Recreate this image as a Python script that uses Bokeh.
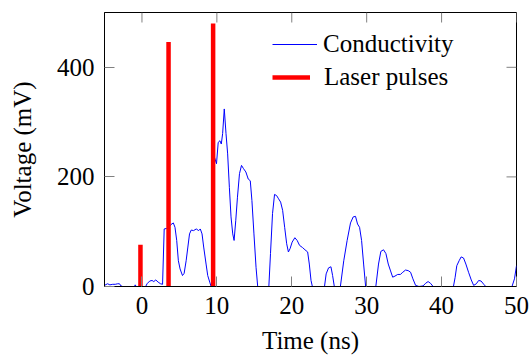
import math
from bokeh.plotting import figure
from bokeh.models import Legend, LegendItem, FixedTicker, Range1d
from bokeh.embed import file_html
from bokeh.resources import INLINE

# Conductivity trace (ns, mV)
time_ns = [-5.0, -4.6, -4.28, -3.9, -3.56, -3.24, -3.0, -2.8, -2.57, -2.2, -1.3, -1.0, -0.9, -0.77, -0.4,
           0.4, 0.5, 0.68, 1.04, 1.35, 1.58, 1.85, 2.16, 2.48, 2.75, 2.97, 3.29, 3.6, 3.87, 4.19, 4.41,
           4.64, 4.86, 5.09, 5.41, 5.63, 5.9, 6.13, 6.35, 6.58, 6.89, 7.25, 7.57, 7.79, 8.02, 8.24,
           8.56, 8.78, 9.05, 9.23, 9.45, 9.68, 9.95, 10.18, 10.41, 10.59, 10.77, 10.99, 11.22, 11.44,
           11.67, 11.89, 12.12, 12.3, 12.52, 12.75, 13.02, 13.29, 13.56, 13.87, 14.19, 14.46, 14.68,
           14.95, 15.23, 15.45, 16.2, 16.94, 17.16, 17.43, 17.7, 17.97, 18.24, 18.51, 18.78, 19.05,
           19.32, 19.55, 19.77, 20.05, 20.41, 20.72, 21.04, 21.44, 21.76, 22.12, 22.34, 22.57, 22.75,
           23.56, 24.37, 24.59, 24.91, 25.23, 25.45, 25.68, 26.08, 26.49, 26.94, 27.39, 27.84, 28.2,
           28.51, 28.78, 29.05, 29.32, 29.59, 29.86, 30.54, 31.22, 31.58, 31.89, 32.25, 32.57, 32.88,
           33.15, 33.47, 33.78, 34.14, 34.5, 34.82, 35.18, 35.54, 35.86, 36.17, 36.53, 36.98, 37.52,
           37.88, 38.2, 38.51, 38.87, 40.68, 41.58, 41.8, 42.03, 42.34, 42.61, 42.93, 43.24, 43.6,
           43.96, 44.28, 44.64, 44.95, 45.27, 45.63, 45.9, 47.4, 49.4, 49.73, 50.0]
conductivity_mv = [2, 5, 3, 4, 4, 5, 5, 1, 0, -10, -10, 0, 3, 0, -10,
                   -10, 0, 5, 10, 11, 9, 12, 8, 5, 4, 105, 106, 108, 113, 116, 108,
                   84, 47, 32, 20, 24, 47, 72, 96, 103, 102, 105, 102, 105, 96, 72,
                   41, 20, 8, 0, -20, 236, 224, 263, 266, 260, 279, 324, 279, 242,
                   181, 127, 96, 84, 120, 163, 206, 221, 215, 209, 196, 193, 157,
                   96, 35, 0, -40, 0, 60, 133, 168, 166, 160, 154, 139, 108,
                   78, 63, 69, 81, 89, 84, 75, 71, 67, 63, 41, 11, 0,
                   -30, 0, 23, 34, 36, 20, 0, -20, 0, 47, 84, 116, 127,
                   128, 114, 108, 84, 41, 0, -30, 0, 41, 64, 67, 60, 41,
                   30, 17, 19, 22, 22, 26, 30, 29, 26, 14, 2, 0, 1,
                   6, 9, 6, 0, -25, 0, 16, 38, 47, 54, 52, 41, 26,
                   12, 2, 5, 11, 10, 4, 0, -25, 0, 14, 38]

# Laser pulses
pulse_time_ns = [-0.2, 3.55, 9.5]
pulse_mv = [76, 446, 480]

x_ticks = [0, 10, 20, 30, 40, 50]
y_ticks = [0, 200, 400]
x_min, x_max = -5, 50
y_min, y_max = 0, 500

FONT = "Liberation Serif"
TICK_COLOR = "#808080"

p = figure(width=531, height=356, output_backend="svg", toolbar_location=None,
           x_range=Range1d(x_min, x_max), y_range=Range1d(y_min, y_max),
           min_border_left=104, min_border_right=15, min_border_top=12, min_border_bottom=70)
p.grid.visible = False
p.outline_line_color = "black"
p.outline_line_width = 1
p.background_fill_color = "white"
p.border_fill_color = "white"


def style_axis(ax, ticks):
    ax.ticker = FixedTicker(ticks=ticks)
    ax.major_tick_in = 10
    ax.major_tick_out = 0
    ax.minor_tick_in = 0
    ax.minor_tick_out = 0
    ax.major_tick_line_color = TICK_COLOR
    ax.major_tick_line_width = 1
    ax.axis_line_color = "black"
    ax.axis_line_width = 1
    ax.major_label_text_font = FONT
    ax.major_label_text_color = "black"
    ax.major_label_text_font_size = "25px"
    ax.axis_label_text_font = FONT
    ax.axis_label_text_font_size = "25px"
    ax.axis_label_text_font_style = "normal"
    ax.axis_label_text_color = "black"


xa = p.xaxis[0]
ya = p.yaxis[0]
style_axis(xa, x_ticks)
style_axis(ya, y_ticks)
xa.major_label_standoff = 10
ya.major_label_standoff = 10
xa.axis_label = "Time (ns)"
ya.axis_label = "Voltage (mV)"
xa.axis_label_standoff = 10
ya.axis_label_standoff = 18

# mirrored tick marks on the top and right edges of the frame
p.ray(x=x_ticks, y=[y_max] * len(x_ticks), length=10, length_units="screen",
      angle=-math.pi / 2, line_color=TICK_COLOR, line_width=1)
p.ray(x=[x_max] * len(y_ticks), y=y_ticks, length=10, length_units="screen",
      angle=math.pi, line_color=TICK_COLOR, line_width=1)

line_r = p.line(time_ns, conductivity_mv, line_color="blue", line_width=1)
bars_r = p.segment(x0=pulse_time_ns, y0=[0] * len(pulse_mv), x1=pulse_time_ns, y1=pulse_mv,
                   line_color="red", line_width=4.5, line_cap="butt")

common = dict(padding=0, margin=0, border_line_color=None, background_fill_alpha=0,
              label_text_font=FONT, label_text_font_size="25px", label_text_color="black",
              glyph_height=30, label_height=30, spacing=0)
leg1 = Legend(items=[LegendItem(label="Conductivity", renderers=[line_r])],
              location=(168, 227.5), glyph_width=45, label_standoff=6, **common)
leg2 = Legend(items=[LegendItem(label="Laser pulses", renderers=[bars_r])],
              location=(168, 194), glyph_width=38, label_standoff=14, **common)
p.add_layout(leg1)
p.add_layout(leg2)

open("out.html", "w").write(file_html(p, INLINE))
